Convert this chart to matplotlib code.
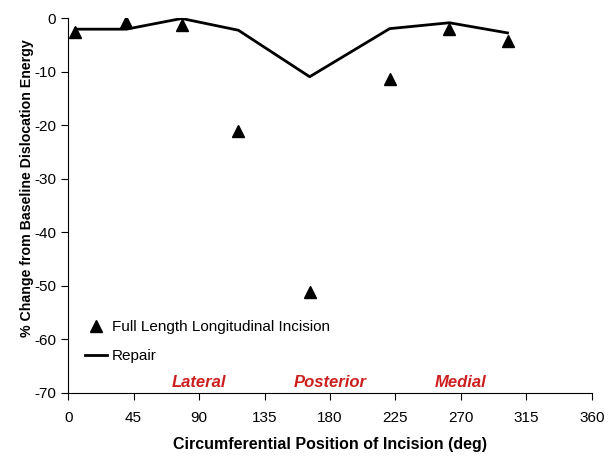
import matplotlib
matplotlib.use("Agg")
import matplotlib.pyplot as plt

plt.rcParams['font.family'] = ['Liberation Sans', 'DejaVu Sans']
plt.rcParams['axes.unicode_minus'] = False

# Circumferential position (deg) and % change values
position = [5, 40, 78, 117, 166, 221, 262, 302]
incision = [-2.5, -0.6, -1.3, -21.1, -51.2, -11.4, -1.9, -4.2]
repair = [-2.0, -2.0, 0.0, -2.2, -10.9, -1.9, -0.8, -2.7]

regions = ["Lateral", "Posterior", "Medial"]
region_pos = [90, 180, 270]

fig = plt.figure(figsize=(6.14, 4.62), dpi=100)
ax = fig.add_axes([0.111, 0.150, 0.853, 0.810])

ax.plot(position, incision, linestyle="none", marker="^", color="black",
        markersize=9, label="Full Length Longitudinal Incision")
ax.plot(position, repair, color="black", linewidth=2, label="Repair")

for name, x in zip(regions, region_pos):
    ax.text(x, -68.1, name, color="#cc2020", fontsize=12, fontweight="bold",
            fontstyle="italic", ha="center", va="center")

ax.set_xlim(0, 360)
ax.set_ylim(-70, 0)
ax.set_xticks(range(0, 361, 45))
ax.set_yticks(range(-70, 1, 10))
ax.tick_params(labelsize=11, direction="out", length=5)
ax.tick_params(axis="x", pad=8)
ax.spines["top"].set_visible(False)
ax.spines["right"].set_visible(False)

ax.set_xlabel("Circumferential Position of Incision (deg)", fontsize=11.5,
              fontweight="bold", labelpad=9)
ax.set_ylabel("% Change from Baseline Dislocation Energy", fontsize=10.2,
              fontweight="bold")
ax.yaxis.set_label_coords(-0.066, 0.547)

ax.legend(loc="upper left", bbox_to_anchor=(0.005, 0.23), frameon=False,
          fontsize=11, handlelength=1.5, handletextpad=0.3, labelspacing=0.95)

fig.savefig("out.png", dpi=100)
